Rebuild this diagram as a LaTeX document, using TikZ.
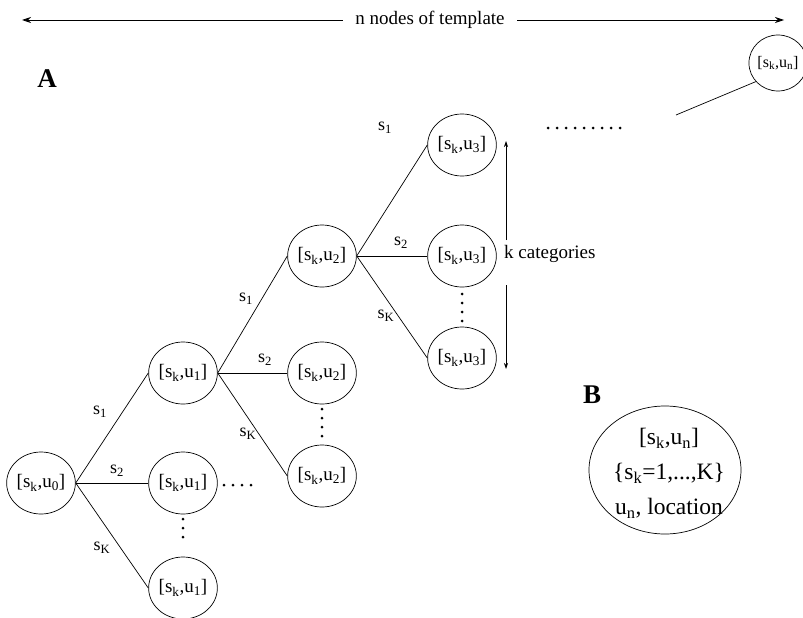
\documentclass[tikz,border=0pt]{standalone}
\usepackage{fontspec}
\setmainfont{Liberation Serif}
\usetikzlibrary{shapes.geometric,arrows.meta}
\newcommand{\sku}[1]{[s\textsubscript{k},u\textsubscript{#1}]}
\tikzset{
  state/.style={ellipse,draw,line width=0.7pt,minimum width=64pt,minimum height=62pt,
    inner sep=0pt,font=\fontsize{19}{21}\selectfont},
  edge/.style={line width=0.7pt},
  elabel/.style={font=\fontsize{18}{20}\selectfont,inner sep=0pt},
  dotrow/.style={line width=3pt,line cap=round,dash pattern=on 0pt off 9pt},
  bigletter/.style={font=\fontsize{27}{30}\selectfont\bfseries,inner sep=0pt},
  span/.style={line width=0.8pt,{Stealth[length=9pt,width=6pt]}-{Stealth[length=9pt,width=6pt]}},
  catarrow/.style={line width=0.7pt,-{Stealth[length=6pt,width=4pt]}}
}
\begin{document}
\begin{tikzpicture}[x=1pt,y=-1pt]
\useasboundingbox (0,0) rectangle (803,618);

% template span
\coordinate (spanL) at (22,20);
\coordinate (spanR) at (784,20);
\draw[span] (spanL) -- (spanR);
\node[fill=white,inner xsep=12pt,inner ysep=2pt,font=\fontsize{19}{21}\selectfont] (spantxt) at (430,20) {n nodes of template};

\node[bigletter] (labA) at (47,79) {A};

% tree nodes
\node[state] (u0)  at (41,483) {\sku{0}};
\node[state] (u1a) at (183,373) {\sku{1}};
\node[state] (u1b) at (183,483) {\sku{1}};
\node[state] (u1c) at (183,588) {\sku{1}};
\node[state] (u2a) at (322,256) {\sku{2}};
\node[state] (u2b) at (322,373) {\sku{2}};
\node[state] (u2c) at (322,476) {\sku{2}};
\node[state] (u3a) at (462,145) {\sku{3}};
\node[state] (u3b) at (462,256) {\sku{3}};
\node[state] (u3c) at (462,358) {\sku{3}};
\node[state,minimum width=50pt,minimum height=56pt,font=\fontsize{16}{18}\selectfont] (un) at (778,63) {\sku{n}};

% branches
\foreach \p/\a/\b/\c in {u0/u1a/u1b/u1c, u1a/u2a/u2b/u2c, u2a/u3a/u3b/u3c}{
  \draw[edge] (\p.east) -- (\a.west);
  \draw[edge] (\p.east) -- (\b.west);
  \draw[edge] (\p.east) -- (\c.west);
}
\coordinate (tail) at (676,115);
\draw[edge] (tail) -- (un.220);

% branch labels
\node[elabel] (l01) at (100,412) {s\textsubscript{1}};
\node[elabel] (l02) at (117,471) {s\textsubscript{2}};
\node[elabel] (l0K) at (102,548) {s\textsubscript{K}};
\node[elabel] (l11) at (246,299) {s\textsubscript{1}};
\node[elabel] (l12) at (265,360) {s\textsubscript{2}};
\node[elabel] (l1K) at (248,434) {s\textsubscript{K}};
\node[elabel] (l21) at (385,128) {s\textsubscript{1}};
\node[elabel] (l22) at (401,243) {s\textsubscript{2}};
\node[elabel] (l2K) at (386,316) {s\textsubscript{K}};

% ellipsis dots
\coordinate (d1a) at (183,519); \coordinate (d1b) at (183,546);
\coordinate (d2a) at (322,409); \coordinate (d2b) at (322,436);
\coordinate (d3a) at (462,294); \coordinate (d3b) at (462,321);
\coordinate (h1a) at (224,485); \coordinate (h1b) at (252,485);
\coordinate (h2a) at (548,128); \coordinate (h2b) at (620,128);
\foreach \s/\e in {d1a/d1b,d2a/d2b,d3a/d3b,h1a/h1b,h2a/h2b}
  \draw[dotrow] (\s) -- (\e);

% categories
\node[anchor=west,inner sep=0pt,font=\fontsize{19}{21}\selectfont] (cat) at (504,254) {k categories};
\coordinate (catU) at (506,141);
\coordinate (catD) at (506,369);
\draw[catarrow] (506,240) -- (catU);
\draw[catarrow] (506,285) -- (catD);

% detail node
\node[bigletter] (labB) at (592,395) {B};
\node[ellipse,draw,line width=0.7pt,minimum width=152pt,minimum height=128pt,inner sep=0pt] (detail) at (665,470) {};
\node[align=center,inner sep=0pt,font=\fontsize{23.5}{35}\selectfont] (detailtxt) at (669,473)
  {[s\textsubscript{k},u\textsubscript{n}]\\\{s\textsubscript{k}=1,...,K\}\\u\textsubscript{n}, location};
\end{tikzpicture}
\end{document}
